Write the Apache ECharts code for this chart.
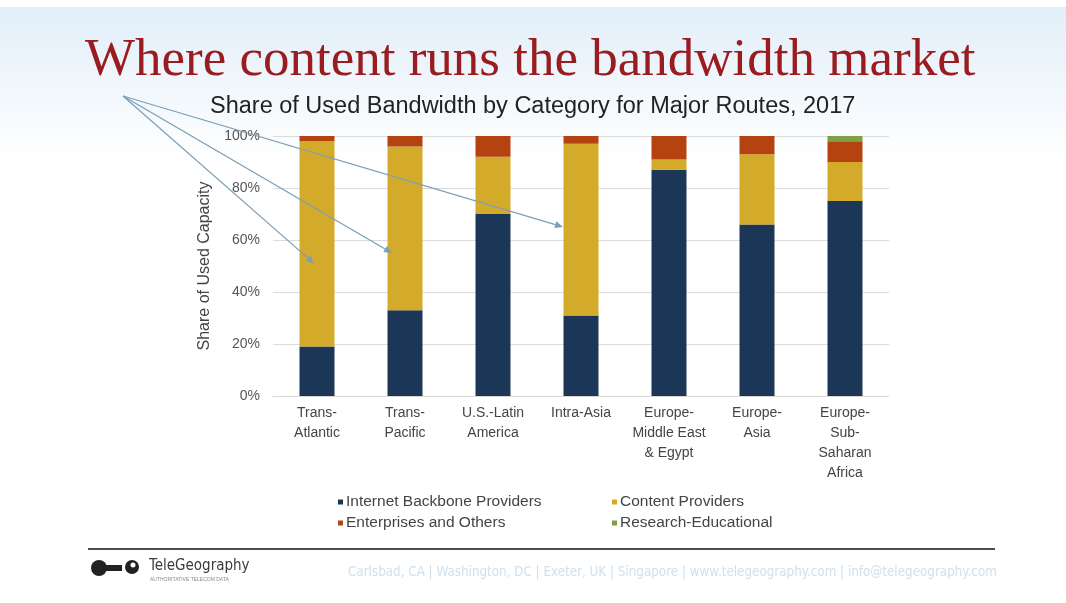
<!DOCTYPE html>
<html>
<head>
<meta charset="utf-8">
<script src="https://cdn.jsdelivr.net/npm/echarts@6/dist/echarts.min.js"></script>
<style>
  html, body { margin: 0; padding: 0; background: #ffffff; }
  #chart { width: 1066px; height: 603px; }
</style>
</head>
<body>
<div id="chart"></div>
<script>
// Routes (x-axis categories)
const routes = [
  'Trans-\nAtlantic',
  'Trans-\nPacific',
  'U.S.-Latin\nAmerica',
  'Intra-Asia',
  'Europe-\nMiddle East\n& Egypt',
  'Europe-\nAsia',
  'Europe-\nSub-\nSaharan\nAfrica'
];

// Share of used capacity (%) per category, per route
const backbone    = [19, 33, 70, 31, 87, 66, 75];
const content     = [79, 63, 22, 66,  4, 27, 15];
const enterprises = [ 2,  4,  8,  3,  9,  7,  8];
const research    = [ 0,  0,  0,  0,  0,  0,  2];

const seriesNames = [
  'Internet Backbone Providers',
  'Content Providers',
  'Enterprises and Others',
  'Research-Educational'
];
const yTicks = [0, 20, 40, 60, 80, 100];

const colors = ['#1b3656', '#d4aa2a', '#b5430f', '#7f9e45'];

const chart = echarts.init(document.getElementById('chart'), null, { renderer: 'canvas' });

function barSeries(name, values, color) {
  return {
    name: name,
    type: 'bar',
    stack: 'share',
    data: values,
    barWidth: 35,
    itemStyle: { color: color },
    emphasis: { disabled: true }
  };
}

const legendStyle = {
  orient: 'vertical',
  top: 489,
  itemWidth: 5,
  itemHeight: 5,
  itemGap: 5,
  icon: 'rect',
  selectedMode: false,
  textStyle: { fontSize: 15.5, color: '#444444', padding: [0, 0, 0, -2] }
};

const option = {
  animation: false,
  backgroundColor: '#ffffff',
  textStyle: { fontFamily: 'Liberation Sans, Arial, sans-serif' },
  title: [
    {
      text: 'Where content runs the bandwidth market',
      left: 80,
      top: 30,
      textStyle: {
        fontFamily: 'Liberation Serif, Georgia, serif',
        fontSize: 53,
        fontWeight: 'normal',
        color: '#9a1b20'
      }
    },
    {
      text: 'Share of Used Bandwidth by Category for Major Routes, 2017',
      left: 205,
      top: 90,
      textStyle: {
        fontFamily: 'Liberation Sans, Arial, sans-serif',
        fontSize: 23.5,
        fontWeight: 'normal',
        color: '#222222'
      }
    }
  ],
  legend: [
    Object.assign({}, legendStyle, { data: [seriesNames[0], seriesNames[2]], left: 333 }),
    Object.assign({}, legendStyle, { data: [seriesNames[1], seriesNames[3]], left: 607 })
  ],
  grid: { left: 273, right: 177, top: 136, bottom: 207, containLabel: false },
  xAxis: {
    type: 'category',
    data: routes,
    axisLine: { show: true, lineStyle: { color: '#d9d9d9', width: 1 } },
    axisTick: { show: false },
    axisLabel: {
      interval: 0,
      margin: 7,
      fontSize: 14,
      lineHeight: 20,
      color: '#444444',
      verticalAlign: 'top'
    }
  },
  yAxis: {
    type: 'value',
    min: 0,
    max: 100,
    interval: 20,
    name: 'Share of Used Capacity',
    nameLocation: 'middle',
    nameGap: 60,
    nameTextStyle: { fontSize: 16, color: '#444444' },
    axisLine: { show: false },
    axisTick: { show: false },
    axisLabel: {
      margin: 13,
      fontSize: 14,
      color: '#555555',
      formatter: function (v) { return yTicks.indexOf(v) >= 0 ? v + '%' : ''; }
    },
    splitLine: { show: true, lineStyle: { color: '#dcdcdc', width: 1 } }
  },
  series: [
    barSeries(seriesNames[0], backbone, colors[0]),
    barSeries(seriesNames[1], content, colors[1]),
    barSeries(seriesNames[2], enterprises, colors[2]),
    barSeries(seriesNames[3], research, colors[3])
  ]
};

chart.setOption(option);

// Annotation arrows from the headline down into the content-provider bars
const arrowOrigin = [123, 96];
const arrowTargets = [
  { route: routes[0], value: 51, dx: -3 },
  { route: routes[1], value: 55, dx: -13 },
  { route: routes[3], value: 65, dx: -18 }
];

function arrowElements(from, to, color) {
  const ang = Math.atan2(to[1] - from[1], to[0] - from[0]);
  const len = 8, half = 3.5;
  const bx = to[0] - len * Math.cos(ang), by = to[1] - len * Math.sin(ang);
  const px = -Math.sin(ang) * half, py = Math.cos(ang) * half;
  return [
    {
      type: 'line',
      z: 100,
      shape: { x1: from[0], y1: from[1], x2: bx, y2: by },
      style: { stroke: color, lineWidth: 1.3 }
    },
    {
      type: 'polygon',
      z: 100,
      shape: { points: [[to[0], to[1]], [bx + px, by + py], [bx - px, by - py]] },
      style: { fill: color }
    }
  ];
}

const graphics = [
  // soft blue header band
  {
    type: 'rect',
    z: -10,
    silent: true,
    shape: { x: 0, y: 7, width: 1066, height: 150 },
    style: {
      fill: new echarts.graphic.LinearGradient(0, 0, 0, 1, [
        { offset: 0, color: '#e2eef8' },
        { offset: 0.55, color: '#f1f7fc' },
        { offset: 1, color: '#ffffff' }
      ])
    }
  },
  // footer rule
  {
    type: 'rect',
    z: 5,
    shape: { x: 88, y: 548, width: 907, height: 2 },
    style: { fill: '#4d4d4d' }
  },
  // TeleGeography mark
  { type: 'circle', z: 5, shape: { cx: 99, cy: 568, r: 8 }, style: { fill: '#222222' } },
  { type: 'rect', z: 5, shape: { x: 105, y: 565, width: 17, height: 6 }, style: { fill: '#222222' } },
  { type: 'circle', z: 5, shape: { cx: 132, cy: 567, r: 7 }, style: { fill: '#222222' } },
  { type: 'circle', z: 6, shape: { cx: 133, cy: 565, r: 2.5 }, style: { fill: '#ffffff' } },
  {
    type: 'text', z: 5, left: 149, top: 559,
    style: {
      text: 'TeleGeography',
      fontFamily: 'Liberation Sans Narrow, DejaVu Sans Condensed, Arial, sans-serif',
      fontSize: 15, fill: '#3a3a3a'
    }
  },
  {
    type: 'text', z: 5, left: 150, top: 577,
    style: {
      text: 'AUTHORITATIVE TELECOM DATA',
      fontFamily: 'Liberation Sans, Arial, sans-serif',
      fontSize: 5, fill: '#8a8a8a'
    }
  },
  {
    type: 'text', z: 5, left: 348, top: 566,
    style: {
      text: 'Carlsbad, CA | Washington, DC | Exeter, UK | Singapore | www.telegeography.com | info@telegeography.com',
      fontFamily: 'Liberation Sans Narrow, DejaVu Sans Condensed, Arial, sans-serif',
      fontSize: 13.3, fill: '#cfe1ee'
    }
  }
];

arrowTargets.forEach(function (t) {
  const p = chart.convertToPixel({ gridIndex: 0 }, [t.route, t.value]);
  graphics.push.apply(graphics, arrowElements(arrowOrigin, [p[0] + t.dx, p[1]], '#7d9fb6'));
});

chart.setOption({ graphic: graphics });
</script>
</body>
</html>
